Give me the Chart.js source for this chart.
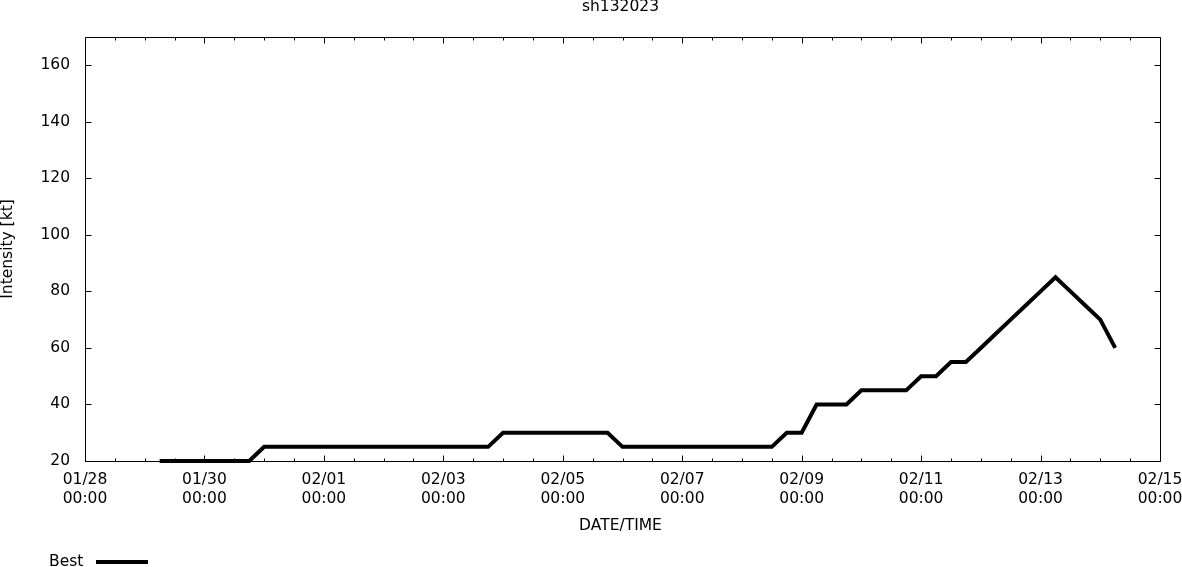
<!DOCTYPE html>
<html>
<head>
<meta charset="utf-8">
<script src="https://cdn.jsdelivr.net/npm/chart.js@4/dist/chart.umd.min.js"></script>
<style>
  html, body { margin: 0; padding: 0; background: #fff; }
  #wrap { width: 1182px; height: 567px; }
</style>
</head>
<body>
<div id="wrap"><canvas id="chart" width="1182" height="567"></canvas></div>
<script>
// best track, 6-hourly (MM/DD HH)
var times = [
  '01/29 06','01/29 12','01/29 18','01/30 00','01/30 06','01/30 12','01/30 18',
  '01/31 00','01/31 06','01/31 12','01/31 18','02/01 00','02/01 06','02/01 12','02/01 18',
  '02/02 00','02/02 06','02/02 12','02/02 18','02/03 00','02/03 06','02/03 12','02/03 18',
  '02/04 00','02/04 06','02/04 12','02/04 18','02/05 00','02/05 06','02/05 12','02/05 18',
  '02/06 00','02/06 06','02/06 12','02/06 18','02/07 00','02/07 06','02/07 12','02/07 18',
  '02/08 00','02/08 06','02/08 12','02/08 18','02/09 00','02/09 06','02/09 12','02/09 18',
  '02/10 00','02/10 06','02/10 12','02/10 18','02/11 00','02/11 06','02/11 12','02/11 18',
  '02/12 00','02/12 06','02/12 12','02/12 18','02/13 00','02/13 06','02/13 12','02/13 18',
  '02/14 00','02/14 06'
];
var bestKt = [
  20, 20, 20, 20, 20, 20, 20,
  25, 25, 25, 25, 25, 25, 25, 25,
  25, 25, 25, 25, 25, 25, 25, 25,
  30, 30, 30, 30, 30, 30, 30, 30,
  25, 25, 25, 25, 25, 25, 25, 25,
  25, 25, 25, 30, 30, 40, 40, 40,
  45, 45, 45, 45, 50, 50, 55, 55,
  60, 65, 70, 75, 80, 85, 80, 75,
  70, 60
];
var xTickLabels = ['01/28', '01/30', '02/01', '02/03', '02/05', '02/07', '02/09', '02/11', '02/13', '02/15'];
var yTicks = [20, 40, 60, 80, 100, 120, 140, 160];

var FONT = 'DejaVu Sans';
var FSIZE = 15.5;

// days since 01/28 00:00
function toDay(s) {
  var m = parseInt(s.substr(0, 2), 10);
  var d = parseInt(s.substr(3, 2), 10);
  var h = parseInt(s.substr(6, 2), 10);
  var base = (m == 1) ? d - 28 : d + 3;
  return base + h / 24;
}

var points = [];
for (var i = 0; i < times.length; i++) {
  points.push({ x: toDay(times[i]), y: bestKt[i] });
}

// gnuplot style frame, inward ticks, titles and legend
var gnuFrame = {
  id: 'gnuFrame',
  afterDraw: function (c) {
    var ctx = c.ctx;
    var a = c.chartArea;
    var xs = c.scales.x, ys = c.scales.y;
    var L = Math.round(a.left) + 0.5, R = Math.round(a.right) + 0.5;
    var T = Math.round(a.top) + 0.5, B = Math.round(a.bottom) + 0.5;
    ctx.save();
    ctx.strokeStyle = '#000';
    ctx.lineWidth = 1;
    ctx.beginPath();
    ctx.rect(L, T, R - L, B - T);
    ctx.stroke();

    ctx.beginPath();
    for (var v = xs.min; v <= xs.max + 0.001; v += 0.5) {
      var px = Math.round(xs.getPixelForValue(v)) + 0.5;
      var len = (Math.abs(v / 2 - Math.round(v / 2)) < 0.001) ? 6 : 3;
      ctx.moveTo(px, B);
      ctx.lineTo(px, B - len);
      ctx.moveTo(px, T);
      ctx.lineTo(px, T + len);
    }
    for (var j = 0; j < yTicks.length; j++) {
      var py = Math.round(ys.getPixelForValue(yTicks[j])) + 0.5;
      ctx.moveTo(L, py);
      ctx.lineTo(L + 6, py);
      ctx.moveTo(R, py);
      ctx.lineTo(R - 6, py);
    }
    ctx.stroke();

    ctx.fillStyle = '#000';
    ctx.font = FSIZE + 'px "' + FONT + '"';
    ctx.textBaseline = 'middle';
    ctx.textAlign = 'center';
    var cx = (a.left + a.right) / 2 - 2;
    ctx.fillText('sh132023', cx, 7);
    ctx.fillText('DATE/TIME', cx, 526);

    ctx.save();
    ctx.translate(8, (a.top + a.bottom) / 2);
    ctx.rotate(-Math.PI / 2);
    ctx.fillText('Intensity [kt]', 0, 0);
    ctx.restore();

    ctx.textAlign = 'left';
    ctx.fillText('Best', 49, 562);
    ctx.lineWidth = 4;
    ctx.beginPath();
    ctx.moveTo(96, 562);
    ctx.lineTo(148, 562);
    ctx.stroke();
    ctx.restore();
  }
};

var ctx = document.getElementById('chart').getContext('2d');
var chart = new Chart(ctx, {
  type: 'line',
  data: {
    datasets: [{
      label: 'Best',
      data: points,
      borderColor: '#000',
      borderWidth: 4,
      borderCapStyle: 'butt',
      borderJoinStyle: 'miter',
      pointRadius: 0,
      tension: 0,
      fill: false,
      clip: false
    }]
  },
  options: {
    responsive: false,
    animation: false,
    layout: { padding: { top: 37, right: 22, left: 0, bottom: 0 } },
    plugins: {
      legend: { display: false },
      title: { display: false },
      tooltip: { enabled: false }
    },
    scales: {
      x: {
        type: 'linear',
        min: 0,
        max: 18,
        grid: { display: false, drawTicks: false },
        border: { display: false },
        afterFit: function (s) {
          s.height = 106;
          s.paddingLeft = 0;
          s.paddingRight = 0;
        },
        ticks: {
          stepSize: 2,
          autoSkip: false,
          maxRotation: 0,
          includeBounds: false,
          padding: 10,
          color: '#000',
          font: { family: FONT, size: FSIZE, lineHeight: 1.22 },
          callback: function (v) {
            var k = Math.round(v / 2);
            return [xTickLabels[k], '00:00'];
          }
        }
      },
      y: {
        min: 20,
        max: 170,
        grid: { display: false, drawTicks: false },
        border: { display: false },
        afterFit: function (s) {
          s.width = 85;
          s.paddingTop = 0;
          s.paddingBottom = 0;
        },
        afterBuildTicks: function (s) {
          s.ticks = yTicks.map(function (t) { return { value: t }; });
        },
        ticks: {
          padding: 15,
          color: '#000',
          font: { family: FONT, size: FSIZE }
        }
      }
    }
  },
  plugins: [gnuFrame]
});
</script>
</body>
</html>
